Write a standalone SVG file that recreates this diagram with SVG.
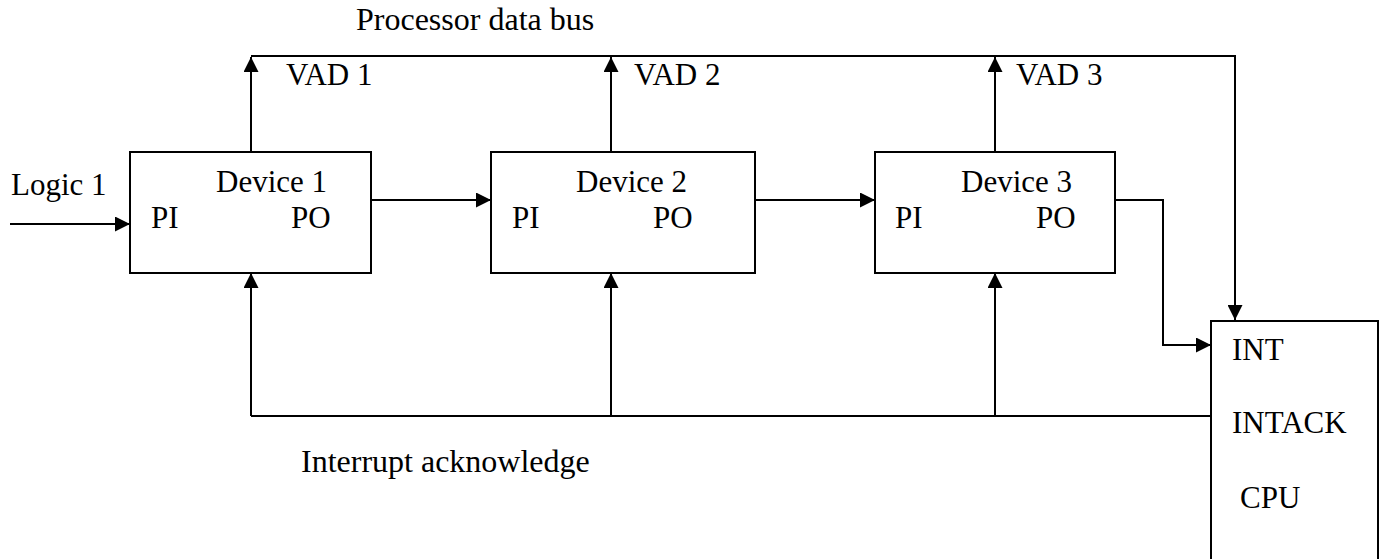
<svg xmlns="http://www.w3.org/2000/svg" width="1386" height="559" viewBox="0 0 1386 559">
<style>
  text { font-family: "Liberation Serif", "Times New Roman", serif; font-size: 31px; fill: #000; }
  .big { font-size: 32px; }
  .box { fill: #fff; stroke: #000; stroke-width: 2; }
  .ln { fill: none; stroke: #000; stroke-width: 2; }
</style>
<defs>
  <marker id="ah" viewBox="0 0 15 15" refX="15" refY="7.5" markerWidth="15" markerHeight="15" markerUnits="userSpaceOnUse" orient="auto">
    <path d="M0,0 L15,7.5 L0,15 Z" fill="#000"/>
  </marker>
</defs>
<g id="connectors">
  <path class="ln" d="M251,56 H1235 V320" marker-end="url(#ah)"/>
  <path class="ln" d="M251,152 V57" marker-end="url(#ah)"/>
  <path class="ln" d="M611,152 V57" marker-end="url(#ah)"/>
  <path class="ln" d="M995,152 V57" marker-end="url(#ah)"/>
  <path class="ln" d="M10,224 H130" marker-end="url(#ah)"/>
  <path class="ln" d="M371,200 H491" marker-end="url(#ah)"/>
  <path class="ln" d="M755,200 H875" marker-end="url(#ah)"/>
  <path class="ln" d="M1115,200 H1163 V345 H1211" marker-end="url(#ah)"/>
  <path class="ln" d="M1211,416 H251"/>
  <path class="ln" d="M251,416 V273" marker-end="url(#ah)"/>
  <path class="ln" d="M611,416 V273" marker-end="url(#ah)"/>
  <path class="ln" d="M995,416 V273" marker-end="url(#ah)"/>
</g>
<g id="labels">
  <text class="big" x="356" y="30">Processor data bus</text>
  <text x="286" y="85">VAD 1</text>
  <text x="634" y="85">VAD 2</text>
  <text x="1016" y="85">VAD 3</text>
  <text x="11" y="195">Logic 1</text>
  <text class="big" x="301" y="472">Interrupt acknowledge</text>
</g>
<g id="device1">
  <rect class="box" x="130" y="152" width="241" height="121"/>
  <text x="216" y="192">Device 1</text>
  <text x="151" y="228">PI</text>
  <text x="291" y="228">PO</text>
</g>
<g id="device2">
  <rect class="box" x="491" y="152" width="264" height="121"/>
  <text x="576" y="192">Device 2</text>
  <text x="512" y="228">PI</text>
  <text x="653" y="228">PO</text>
</g>
<g id="device3">
  <rect class="box" x="875" y="152" width="240" height="121"/>
  <text x="961" y="192">Device 3</text>
  <text x="895" y="228">PI</text>
  <text x="1036" y="228">PO</text>
</g>
<g id="cpu">
  <rect class="box" x="1211" y="321" width="167" height="250"/>
  <text x="1232" y="360">INT</text>
  <text x="1232" y="433">INTACK</text>
  <text x="1240" y="508">CPU</text>
</g>
</svg>
